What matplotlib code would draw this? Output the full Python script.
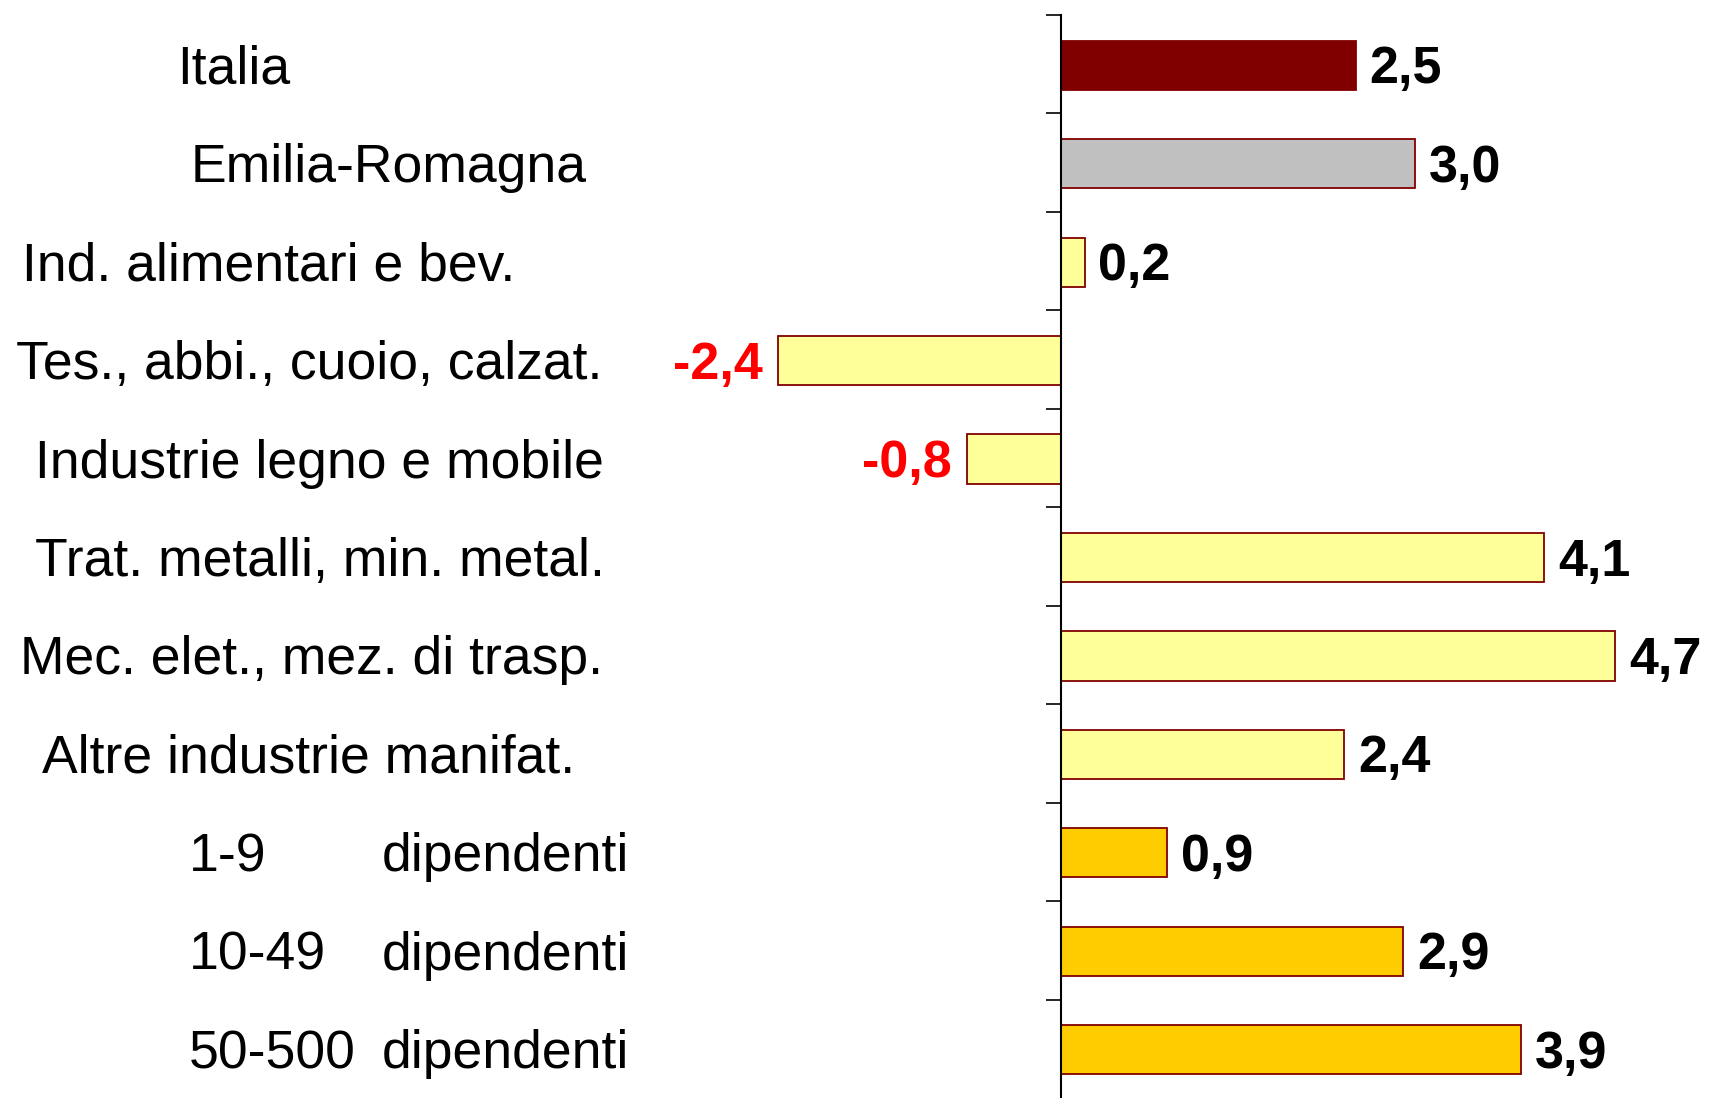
import matplotlib
matplotlib.use("Agg")
import matplotlib.pyplot as plt
import matplotlib.transforms as mtransforms
import numpy as np

# ---- data ----
categories = ["Italia", "Emilia-Romagna", "Ind. alimentari e bev.",
              "Tes., abbi., cuoio, calzat.", "Industrie legno e mobile",
              "Trat. metalli, min. metal.", "Mec. elet., mez. di trasp.",
              "Altre industrie manifat.", "1-9", "10-49", "50-500"]
suffixes = ["", "", "", "", "", "", "", "", "dipendenti", "dipendenti", "dipendenti"]
values = [2.5, 3.0, 0.2, -2.4, -0.8, 4.1, 4.7, 2.4, 0.9, 2.9, 3.9]
value_labels = ["2,5", "3,0", "0,2", "-2,4", "-0,8", "4,1", "4,7", "2,4", "0,9", "2,9", "3,9"]

# ---- styles / layout ----
fill_colors = ["#800000", "#C0C0C0"] + ["#FFFF99"] * 6 + ["#FFCC00"] * 3
edge_color = "#800000"
label_x_px = [177, 191, 22, 16, 35, 35, 20, 42, 189, 189, 189]
suffix_x_px = 382

W, H, DPI = 1713, 1098, 100
plt.rcParams['font.family'] = ['Liberation Sans', 'DejaVu Sans']

fig = plt.figure(figsize=(W / DPI, H / DPI), dpi=DPI)
ax = fig.add_axes([0, 0, 1, (H - 15) / H])

px_per_unit = 117.9
zero_px = 1061
ax.set_xlim(-zero_px / px_per_unit, (W - zero_px) / px_per_unit)
ax.set_ylim(len(categories) - 0.5, -0.5)

y = np.arange(len(categories))
ax.barh(y + 0.01, values, height=0.5, color=fill_colors, edgecolor=edge_color, linewidth=1.3, zorder=2)

for sp in ["top", "right", "bottom"]:
    ax.spines[sp].set_visible(False)
ax.spines["left"].set_position(("data", 0))
ax.spines["left"].set_linewidth(1.5)
ax.spines["left"].set_zorder(3)
ax.set_xticks([])
ax.set_yticks(np.arange(-0.5, len(categories) - 0.5, 1))
ax.set_yticklabels([])
ax.tick_params(axis="y", direction="out", length=11, width=1.2, left=True)

trans = mtransforms.blended_transform_factory(fig.transFigure, ax.transData)
for i, (cat, suf) in enumerate(zip(categories, suffixes)):
    ax.text(label_x_px[i] / W, i, cat, transform=trans, ha="left", va="center_baseline",
            fontsize=38.5, color="black")
    if suf:
        ax.text(suffix_x_px / W, i, suf, transform=trans, ha="left", va="center_baseline",
                fontsize=38.5, color="black")

for i, (v, lab) in enumerate(zip(values, value_labels)):
    if v >= 0:
        ax.annotate(lab, xy=(v, i), xytext=(10, 0), textcoords="offset points",
                    ha="left", va="center_baseline", fontsize=37.5, fontweight="bold", color="black")
    else:
        ax.annotate(lab, xy=(v, i), xytext=(-11, 0), textcoords="offset points",
                    ha="right", va="center_baseline", fontsize=37.5, fontweight="bold", color="#FF0000")

fig.savefig("out.png", dpi=DPI)
